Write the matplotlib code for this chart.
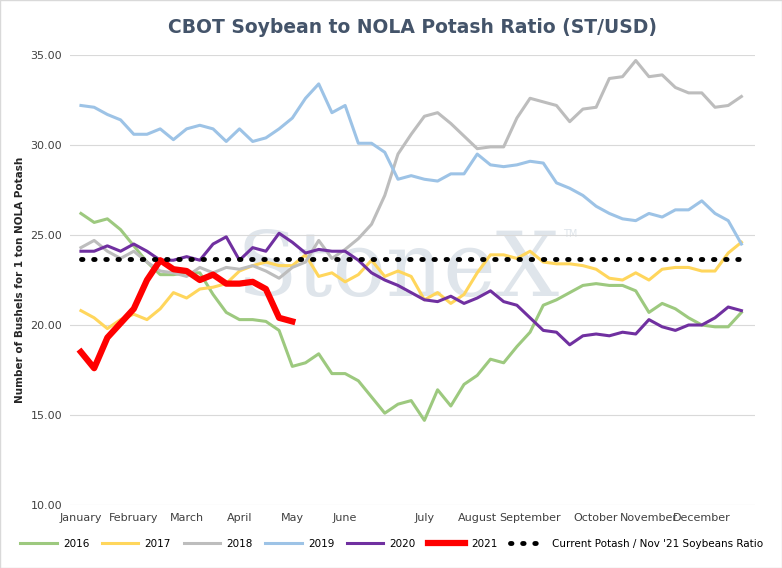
import numpy as np
import matplotlib.pyplot as plt

# Weekly ratios
y2016 = [26.2, 25.7, 25.9, 25.3, 24.4, 23.5, 22.8, 22.8, 22.9, 22.9,
         21.7, 20.7, 20.3, 20.3, 20.2, 19.7, 17.7, 17.9, 18.4, 17.3,
         17.3, 16.9, 16.0, 15.1, 15.6, 15.8, 14.7, 16.4, 15.5, 16.7,
         17.2, 18.1, 17.9, 18.8, 19.6, 21.1, 21.4, 21.8, 22.2, 22.3,
         22.2, 22.2, 21.9, 20.7, 21.2, 20.9, 20.4, 20.0, 19.9, 19.9, 20.7]
y2017 = [20.8, 20.4, 19.8, 20.3, 20.6, 20.3, 20.9, 21.8, 21.5, 22.0,
         22.1, 22.3, 23.0, 23.3, 23.5, 23.3, 23.3, 23.9, 22.7, 22.9,
         22.4, 22.8, 23.6, 22.7, 23.0, 22.7, 21.4, 21.8, 21.2, 21.7,
         22.9, 23.9, 23.9, 23.7, 24.1, 23.5, 23.4, 23.4, 23.3, 23.1,
         22.6, 22.5, 22.9, 22.5, 23.1, 23.2, 23.2, 23.0, 23.0, 24.0, 24.6]
y2018 = [24.3, 24.7, 24.1, 23.7, 24.1, 23.5, 23.0, 22.9, 22.7, 23.2,
         22.9, 23.2, 23.1, 23.3, 23.0, 22.6, 23.2, 23.5, 24.7, 23.7,
         24.2, 24.8, 25.6, 27.2, 29.5, 30.6, 31.6, 31.8, 31.2, 30.5,
         29.8, 29.9, 29.9, 31.5, 32.6, 32.4, 32.2, 31.3, 32.0, 32.1,
         33.7, 33.8, 34.7, 33.8, 33.9, 33.2, 32.9, 32.9, 32.1, 32.2, 32.7]
y2019 = [32.2, 32.1, 31.7, 31.4, 30.6, 30.6, 30.9, 30.3, 30.9, 31.1,
         30.9, 30.2, 30.9, 30.2, 30.4, 30.9, 31.5, 32.6, 33.4, 31.8,
         32.2, 30.1, 30.1, 29.6, 28.1, 28.3, 28.1, 28.0, 28.4, 28.4,
         29.5, 28.9, 28.8, 28.9, 29.1, 29.0, 27.9, 27.6, 27.2, 26.6,
         26.2, 25.9, 25.8, 26.2, 26.0, 26.4, 26.4, 26.9, 26.2, 25.8, 24.5]
y2020 = [24.1, 24.1, 24.4, 24.1, 24.5, 24.1, 23.6, 23.6, 23.8, 23.6,
         24.5, 24.9, 23.6, 24.3, 24.1, 25.1, 24.6, 24.0, 24.2, 24.1,
         24.1, 23.6, 22.9, 22.5, 22.2, 21.8, 21.4, 21.3, 21.6, 21.2,
         21.5, 21.9, 21.3, 21.1, 20.4, 19.7, 19.6, 18.9, 19.4, 19.5,
         19.4, 19.6, 19.5, 20.3, 19.9, 19.7, 20.0, 20.0, 20.4, 21.0, 20.8]
y2021 = [18.5, 17.6, 19.3, 20.1, 20.9, 22.5, 23.6, 23.1, 23.0, 22.5,
         22.8, 22.3, 22.3, 22.4, 22.0, 20.4, 20.2]
current_ratio = 23.65

months = ["January", "February", "March", "April", "May", "June", "July",
          "August", "September", "October", "November", "December"]
month_weeks = [0, 4, 8, 12, 16, 20, 26, 30, 34, 39, 43, 47]

fig = plt.figure(figsize=(7.82, 5.68), dpi=100)
ax = fig.add_axes([0.09, 0.111, 0.875, 0.792])

series = [(y2016, "2016", "#9dc97f", 2.2), (y2017, "2017", "#ffd65c", 2.2),
          (y2018, "2018", "#bdbdbd", 2.2), (y2019, "2019", "#9dc3e6", 2.2),
          (y2020, "2020", "#7030a0", 2.2), (y2021, "2021", "#ff0000", 4.5)]
for vals, lab, col, lw in series:
    ax.plot(np.arange(len(vals)), vals, color=col, lw=lw, label=lab)

ax.plot(np.arange(51), [current_ratio] * 51, color="black", lw=3.5,
        linestyle=(0, (0.3, 2.2)), dash_capstyle="round",
        label="Current Potash / Nov '21 Soybeans Ratio")

# faint watermark
ax.text(24.0, 23.0, "StoneX", fontsize=64, family="DejaVu Serif", color="#dfe5eb",
        ha="center", va="center", zorder=0)
ax.text(36.5, 24.9, "TM", fontsize=7, color="#dfe5eb", zorder=0)

ax.set_ylim(10, 35)
ax.set_xlim(-0.8, 51)
ax.set_yticks(np.arange(10, 36, 5))
ax.set_yticklabels([f"{v:.2f}" for v in np.arange(10, 36, 5)], fontsize=8, color="#404040")
ax.set_xticks(month_weeks)
ax.set_xticklabels(months, fontsize=8, color="#404040")
ax.tick_params(length=0, pad=6)
ax.grid(axis="y", color="#d9d9d9", lw=0.8)
ax.set_axisbelow(True)
for s in ax.spines.values():
    s.set_visible(False)
ax.set_ylabel("Number of Bushels for 1 ton NOLA Potash", fontsize=7.5,
              fontweight="bold", color="#262626")
ax.set_title("CBOT Soybean to NOLA Potash Ratio (ST/USD)", fontsize=13.5,
             fontweight="bold", color="#44546a", pad=16)
ax.legend(loc="upper center", bbox_to_anchor=(0.47, -0.055), ncol=7, frameon=False,
          fontsize=7.5, handlelength=3.5, columnspacing=1.2, handletextpad=0.6)

fig.patches.append(plt.Rectangle((0, 0), 1, 1, transform=fig.transFigure,
                                 fill=False, edgecolor="#d9d9d9", lw=1))
fig.savefig("out.png", dpi=100)
